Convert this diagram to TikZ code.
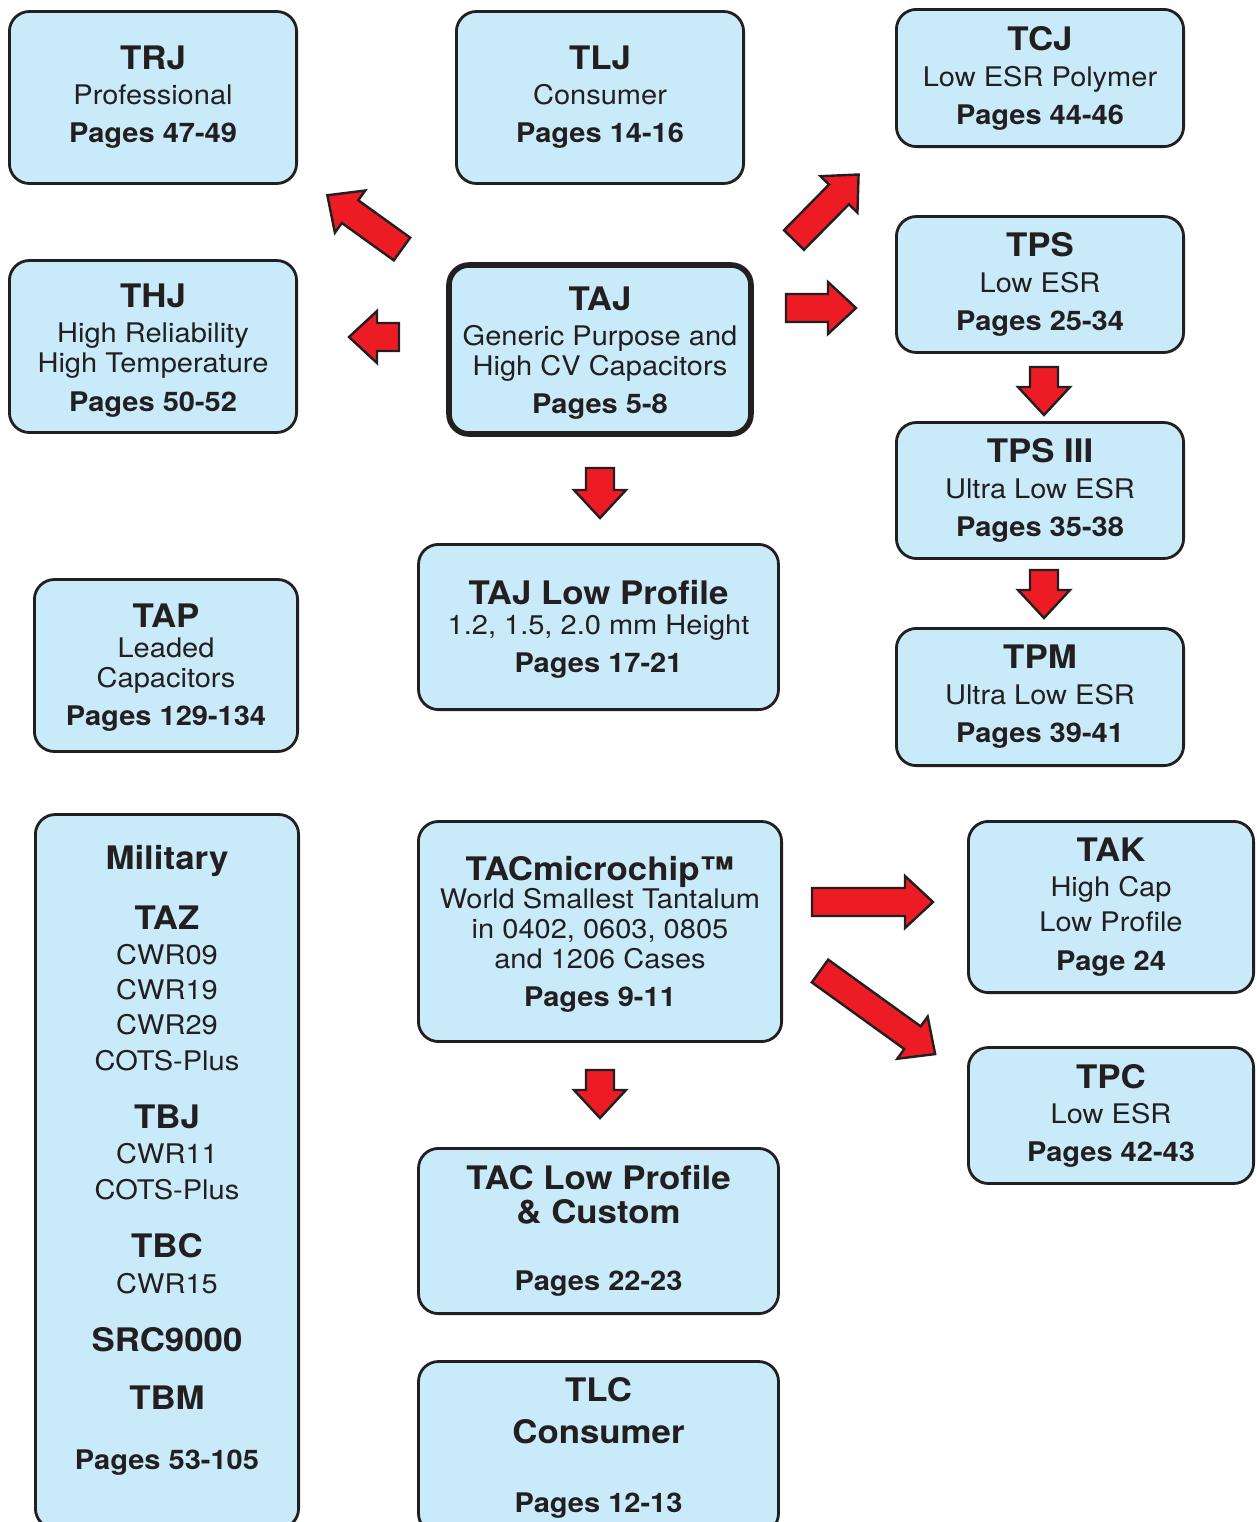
\documentclass[tikz,border=0pt]{standalone}
\usepackage{fontspec}
\setmainfont{TeX Gyre Heros}[FakeStretch=1.075]
\definecolor{boxfill}{RGB}{200,234,249}
\definecolor{arrowred}{RGB}{237,28,36}
\definecolor{ink}{RGB}{35,31,32}
\def\captitle{\bfseries\fontsize{16.2}{18}\selectfont}
\def\toplift#1{\rule{0pt}{#1}}
\def\bigarrow(#1)(#2:#3){\draw[redarrow, shift={(#1)}, rotate=#2] (0,-14) -- ({#3-28},-14) -- ({#3-28},-26) -- (#3,0) -- ({#3-28},26) -- ({#3-28},14) -- (0,14) -- cycle;}

\begin{document}
\begin{tikzpicture}[x=0.5pt, y=-0.5pt,
	capbox/.style={draw=ink, fill=boxfill, line width=1.4pt, rounded corners=10pt, align=center, inner sep=0pt, text=ink, font=\fontsize{13.5}{15}\selectfont},
	redarrow/.style={draw=ink, fill=arrowred, line width=1.2pt, line join=miter}]
			%%%%% START %%%%%
			\path[use as bounding box, clip] (0,0) rectangle (1257,1522);
			
			\node[capbox, minimum width=143.6pt, minimum height=86pt] (trj) at (153,97.5)
				{{\captitle TRJ}\\[2.5pt] Professional\\[4pt] \textbf{Pages 47-49}};
			\node[capbox, minimum width=143.6pt, minimum height=86pt] (tlj) at (600,97.5)
				{{\captitle TLJ}\\[2.5pt] Consumer\\[4pt] \textbf{Pages 14-16}};
			\node[capbox, minimum width=143.6pt, minimum height=68.6pt] (tcj) at (1040,78)
				{{\captitle TCJ}\\[3pt] Low ESR Polymer\\[4pt] \textbf{Pages 44-46}};
			\node[capbox, minimum width=143.6pt, minimum height=86pt] (thj) at (153,346.5)
				{\toplift{15.7pt}{\captitle THJ}\\[2.5pt] High Reliability\\ High Temperature\\[4.5pt] \textbf{Pages 50-52}};
			\node[capbox, line width=2.8pt, minimum width=151pt, minimum height=84.5pt] (taj) at (600,349.5)
				{\toplift{15.7pt}{\captitle TAJ}\\[2.5pt] Generic Purpose and\\ High CV Capacitors\\[4pt] \textbf{Pages 5-8}};
			\node[capbox, minimum width=143.6pt, minimum height=68pt] (tps) at (1040,284.5)
				{{\captitle TPS}\\[3pt] Low ESR\\[4pt] \textbf{Pages 25-34}};
			\node[capbox, minimum width=143.6pt, minimum height=68pt] (tpsiii) at (1040,490.5)
				{{\captitle TPS III}\\[3pt] Ultra Low ESR\\[4pt] \textbf{Pages 35-38}};
			\node[capbox, minimum width=180pt, minimum height=82.6pt] (tajlow) at (598.5,627)
				{\toplift{14.8pt}{\captitle TAJ Low Profile}\\ 1.2, 1.5, 2.0 mm Height\\[4pt] \textbf{Pages 17-21}};
			\node[capbox, minimum width=131.6pt, minimum height=86pt] (tap) at (166,665.5)
				{\toplift{14.2pt}{\captitle TAP}\\[0pt] Leaded\\ Capacitors\\[4pt] \textbf{Pages 129-134}};
			\node[capbox, minimum width=143.6pt, minimum height=68.6pt] (tpm) at (1040,697)
				{{\captitle TPM}\\[3pt] Ultra Low ESR\\[4pt] \textbf{Pages 39-41}};
			
			\node[capbox, minimum width=131.6pt, minimum height=357pt] (mil) at (167,1171.5) {};
			\node[align=center, text=ink, font=\fontsize{13.5}{15}\selectfont] (miltext) at (167,1160)
				{{\captitle Military}\\[13.5pt] {\captitle TAZ}\\[2.5pt] CWR09\\[2.5pt] CWR19\\[2.5pt] CWR29\\[3pt] COTS-Plus\\[14pt]
				 {\captitle TBJ}\\[2.5pt] CWR11\\[3pt] COTS-Plus\\[14pt] {\captitle TBC}\\[3pt] CWR15\\[14pt]
				 {\captitle SRC9000}\\[14pt] {\captitle TBM}\\[15pt] \textbf{Pages 53-105}};
			
			\node[capbox, minimum width=181.6pt, minimum height=110pt] (tacmicro) at (600,931.5)
				{\toplift{14.7pt}{\captitle TACmicrochip™}\\[-1pt] World Smallest Tantalum\\ in 0402, 0603, 0805\\ and 1206 Cases\\[4pt] \textbf{Pages 9-11}};
			\node[capbox, minimum width=142.6pt, minimum height=85.6pt] (tak) at (1111,907)
				{{\captitle TAK}\\[2.5pt] High Cap\\[2.5pt] Low Profile\\[4.5pt] \textbf{Page 24}};
			\node[capbox, minimum width=142.6pt, minimum height=68pt] (tpc) at (1111,1115.5)
				{{\captitle TPC}\\[2.5pt] Low ESR\\[4pt] \textbf{Pages 42-43}};
			\node[capbox, minimum width=180pt, minimum height=82.6pt] (taclow) at (598.5,1231)
				{{\captitle TAC Low Profile}\\[2pt] {\captitle \& Custom}\\[18.5pt] \textbf{Pages 22-23}};
			\node[capbox, minimum width=180pt, minimum height=86pt] (tlc) at (598.5,1447.5)
				{{\captitle TLC}\\[6pt] {\captitle Consumer}\\[19.5pt] \textbf{Pages 12-13}};
			
			% arrows
			\bigarrow(402,249)(144.25:92)
			\bigarrow(399,337)(180:50)
			\bigarrow(794,240)(45.4:92)
			\bigarrow(786,308)(0:70)
			\bigarrow(600,468)(-90:50)
			\bigarrow(1044,367)(-90:48)
			\bigarrow(1044,570)(-90:48)
			\bigarrow(812,902)(0:121)
			\bigarrow(820,971)(-35.8:142)
			\bigarrow(600,1070)(-90:48)
			%%%%% END %%%%%
		\end{tikzpicture}
\end{document}
